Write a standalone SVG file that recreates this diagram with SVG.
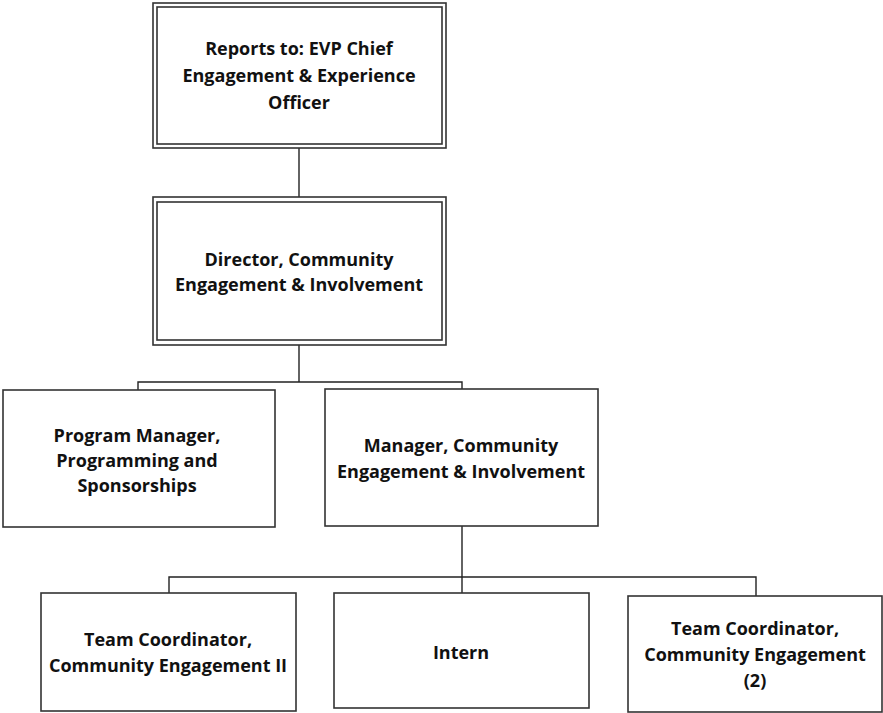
<svg xmlns="http://www.w3.org/2000/svg" width="883" height="713" viewBox="0 0 883 713">
<style>
.box{fill:#fff;stroke:#333;stroke-width:1.6}
.conn{fill:none;stroke:#222;stroke-width:1.4}
text{font-family:"Open Sans","Noto Sans","DejaVu Sans",sans-serif;font-weight:bold;font-size:18px;fill:#111;text-anchor:middle}
</style>
<rect width="883" height="713" fill="#fff"/>
<g id="connectors" class="conn">
<path d="M299,148 V197"/>
<path d="M299,345 V382"/>
<path d="M138,390 V382 H462 V389"/>
<path d="M462,526 V593"/>
<path d="M169,593 V577 H756 V596"/>
</g>
<g id="n-evp">
<rect class="box" x="153" y="3" width="293" height="145"/>
<rect class="box" x="157" y="7" width="285" height="137"/>
<text x="299" y="55">Reports to: EVP Chief</text>
<text x="299" y="82">Engagement &amp; Experience</text>
<text x="299" y="109">Officer</text>
</g>
<g id="n-director">
<rect class="box" x="153" y="197" width="293" height="148"/>
<rect class="box" x="157" y="202" width="285" height="138"/>
<text x="299" y="266">Director, Community</text>
<text x="299" y="291">Engagement &amp; Involvement</text>
</g>
<g id="n-program">
<rect class="box" x="3" y="390" width="272" height="137"/>
<text x="137" y="442">Program Manager,</text>
<text x="137" y="467">Programming and</text>
<text x="137" y="492">Sponsorships</text>
</g>
<g id="n-manager">
<rect class="box" x="325" y="389" width="273" height="137"/>
<text x="461" y="452">Manager, Community</text>
<text x="461" y="478">Engagement &amp; Involvement</text>
</g>
<g id="n-tc2">
<rect class="box" x="41" y="593" width="255" height="118"/>
<text x="168" y="646">Team Coordinator,</text>
<text x="168" y="672">Community Engagement II</text>
</g>
<g id="n-intern">
<rect class="box" x="334" y="593" width="255" height="115"/>
<text x="461" y="659">Intern</text>
</g>
<g id="n-tc">
<rect class="box" x="628" y="596" width="254" height="116"/>
<text x="755" y="635">Team Coordinator,</text>
<text x="755" y="661">Community Engagement</text>
<text x="755" y="687">(2)</text>
</g>
</svg>
